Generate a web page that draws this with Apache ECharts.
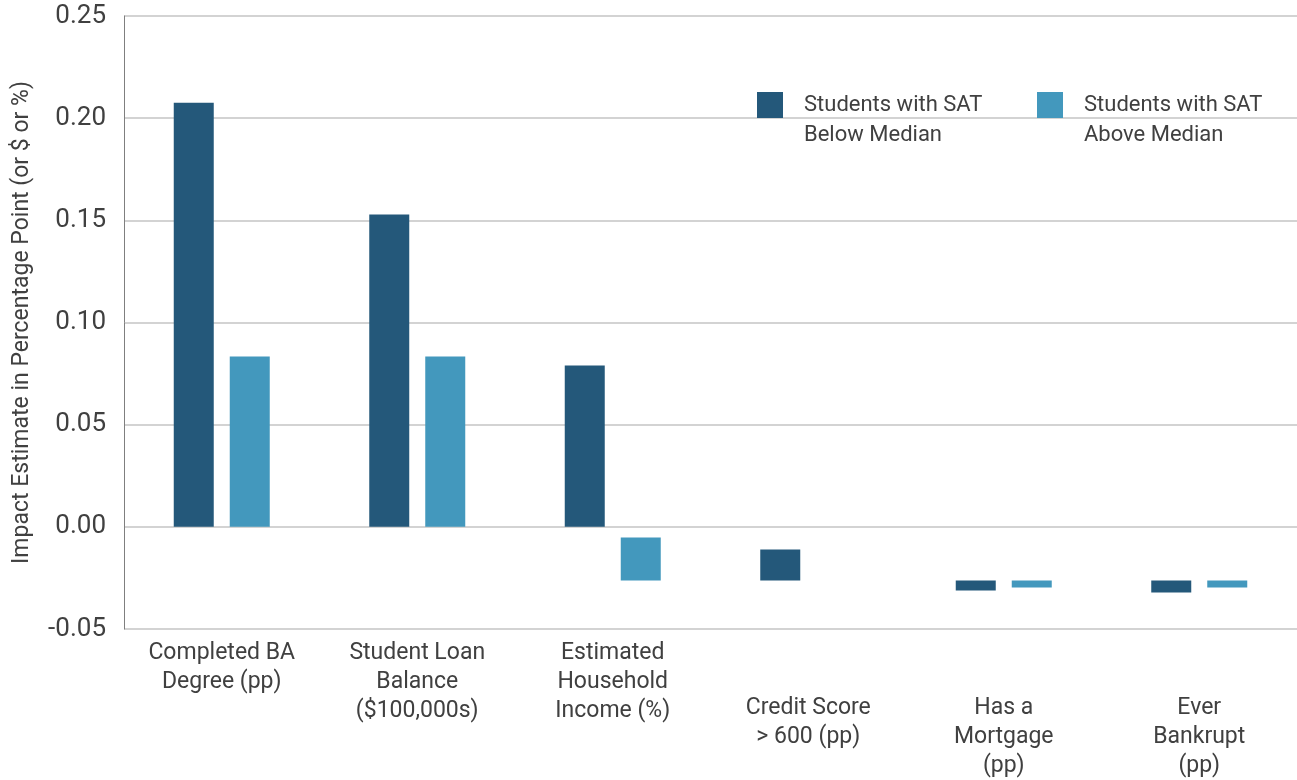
<!DOCTYPE html>
<html>
<head>
<meta charset="utf-8">
<script src="https://cdn.jsdelivr.net/npm/echarts@6/dist/echarts.min.js"></script>
<style>
  html, body { margin: 0; padding: 0; background: #fff; }
  #chart { width: 1297px; height: 780px; }
</style>
</head>
<body>
<div id="chart"></div>
<script>
// categorias do eixo x
const categorias = [
  "Completed BA\nDegree (pp)",
  "Student Loan\nBalance\n($100,000s)",
  "Estimated\nHousehold\nIncome (%)",
  "Credit Score\n> 600 (pp)",
  "Has a\nMortgage\n(pp)",
  "Ever\nBankrupt\n(pp)"
];

const serieAbaixo = "Students with SAT\nBelow Median";
const serieAcima = "Students with SAT\nAbove Median";

// onde cada barra começa e termina (as barras negativas flutuam)
const abaixoInicio = [0, 0, 0, -0.0111, -0.0263, -0.0263];
const abaixoFim = [0.2076, 0.1528, 0.0789, -0.0263, -0.0312, -0.0321];
const acimaInicio = [0, 0, -0.0052, null, -0.0263, -0.0263];
const acimaFim = [0.0833, 0.0833, -0.0263, null, -0.0297, -0.0297];

const ticksY = { min: -0.05, max: 0.25, interval: 0.05 };

const corEscura = "#24587a";
const corClara = "#4398bd";
const corTexto = "#404040";
const fonte = "Roboto";

function tamanho(inicio, fim) {
  return fim.map((v, i) => (v === null ? "-" : +(v - inicio[i]).toFixed(4)));
}

function legenda(nome, esquerda) {
  return {
    data: [nome],
    left: esquerda,
    top: 60,
    padding: 0,
    itemWidth: 26,
    itemHeight: 26,
    selectedMode: false,
    icon: "rect",
    // linha vazia em cima para o quadrado ficar alinhado com a 1a linha
    formatter: n => " \n" + n,
    textStyle: { fontSize: 22, color: corTexto, lineHeight: 30, padding: [0, 0, 0, 16] }
  };
}

const chart = echarts.init(document.getElementById("chart"));

const option = {
  animation: false,
  textStyle: { fontFamily: fonte },
  grid: { left: 124, right: 0, top: 16, bottom: 151, outerBoundsMode: "none" },
  legend: [legenda(serieAbaixo, 757), legenda(serieAcima, 1037)],
  xAxis: {
    type: "category",
    data: categorias,
    axisLine: { show: false, onZero: false },
    axisTick: { show: false },
    axisLabel: {
      margin: 10,
      interval: 0,
      formatter: (v, i) => {
        const linhas = v.split("\n").map(l => "{t|" + l + "}").join("\n");
        return i >= 3 ? "{g| }\n" + linhas : linhas;
      },
      rich: {
        t: { fontSize: 23, lineHeight: 29, color: corTexto, fontFamily: fonte },
        g: { fontSize: 10, height: 55, lineHeight: 55 }
      }
    }
  },
  yAxis: {
    type: "value",
    min: ticksY.min,
    max: ticksY.max,
    interval: ticksY.interval,
    name: "Impact Estimate in Percentage Point (or $ or %)",
    nameLocation: "middle",
    nameGap: 90,
    nameTextStyle: { fontSize: 23, color: corTexto },
    axisLine: { show: true, lineStyle: { color: "#7f7f7f", width: 1 } },
    axisTick: { show: false },
    axisLabel: {
      margin: 18,
      fontSize: 26,
      color: corTexto,
      formatter: v => v.toFixed(2)
    },
    splitLine: { lineStyle: { color: "#c4c4c4", width: 1.5 } }
  },
  series: [
    {
      name: "baseAbaixo",
      type: "bar",
      stack: "abaixo",
      silent: true,
      barWidth: 40,
      itemStyle: { color: "transparent" },
      data: abaixoInicio.map(v => (v === null ? "-" : v))
    },
    {
      name: serieAbaixo,
      type: "bar",
      stack: "abaixo",
      barWidth: 40,
      itemStyle: { color: corEscura },
      data: tamanho(abaixoInicio, abaixoFim)
    },
    {
      name: "baseAcima",
      type: "bar",
      stack: "acima",
      silent: true,
      barWidth: 40,
      itemStyle: { color: "transparent" },
      data: acimaInicio.map(v => (v === null ? "-" : v))
    },
    {
      name: serieAcima,
      type: "bar",
      stack: "acima",
      barWidth: 40,
      barGap: "40%",
      itemStyle: { color: corClara },
      data: tamanho(acimaInicio, acimaFim)
    }
  ]
};
chart.setOption(option);
</script>
</body>
</html>
